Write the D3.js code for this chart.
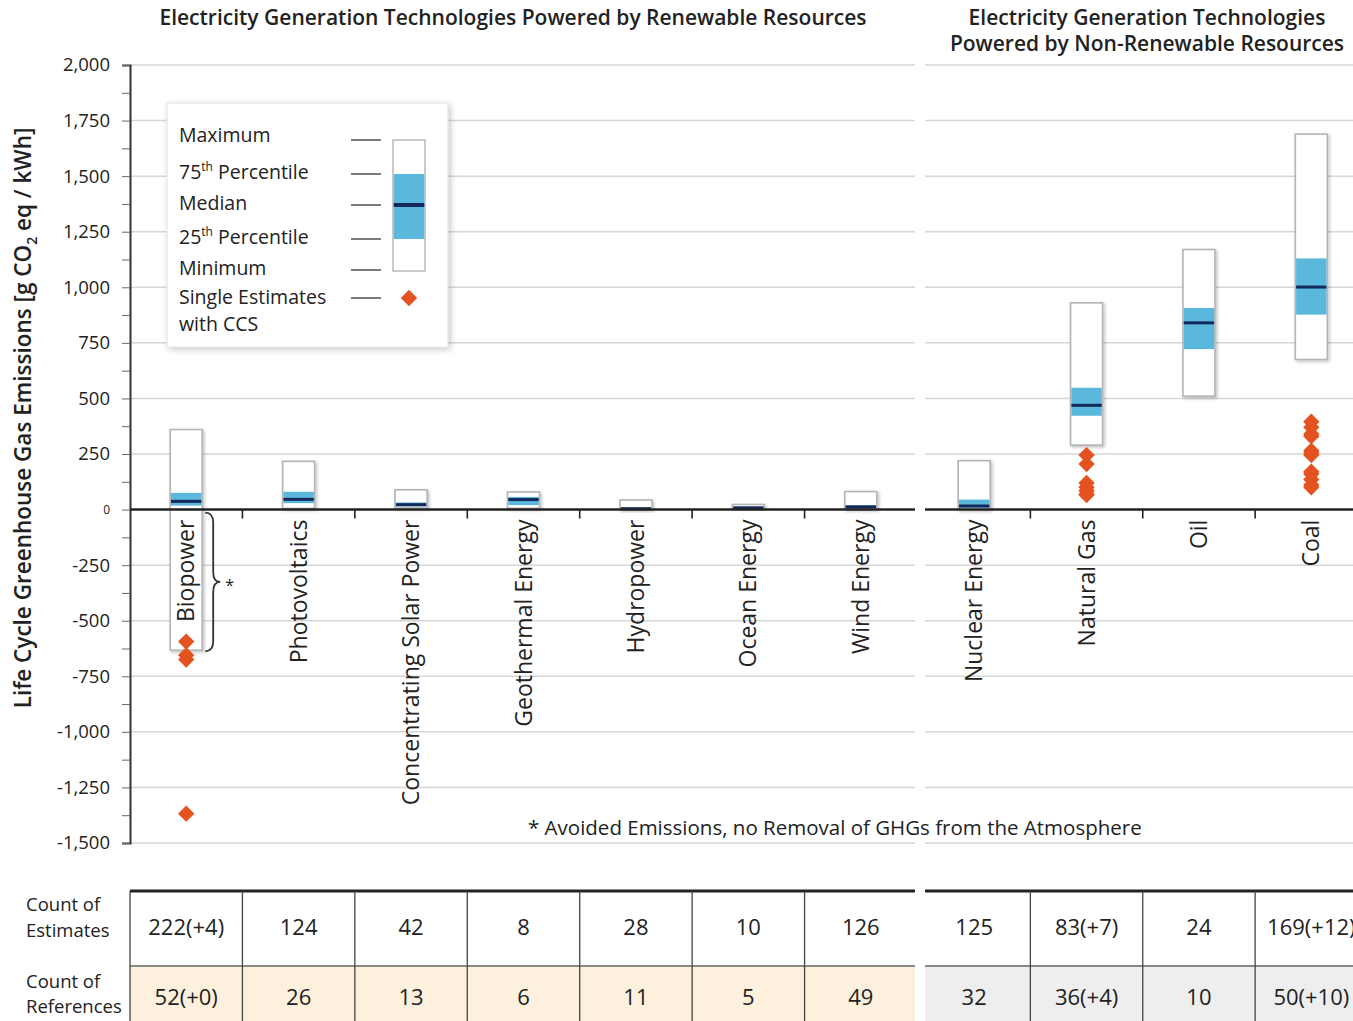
<!DOCTYPE html>
<html><head><meta charset="utf-8">
<script src="https://cdn.jsdelivr.net/npm/d3@7"></script>
<style>
body{margin:0;background:#fff;}
text{font-family:"Open Sans","Noto Sans",sans-serif;fill:#222;}
</style></head>
<body><svg id="c" width="1353" height="1021"></svg>
<script>
// ---------- data ----------
const categories = ["Biopower","Photovoltaics","Concentrating Solar Power","Geothermal Energy","Hydropower","Ocean Energy","Wind Energy","Nuclear Energy","Natural Gas","Oil","Coal"];
const renewable = ["Biopower","Photovoltaics","Concentrating Solar Power","Geothermal Energy","Hydropower","Ocean Energy","Wind Energy"];
const nonRenewable = ["Nuclear Energy","Natural Gas","Oil","Coal"];
const minVals = [-633, 5, 7, 6, 0, 2, 2, 1, 290, 510, 675];
const q1Vals  = [18, 29, 14, 20, 3, 6, 8, 8, 422, 722, 877];
const medVals = [37, 46, 22, 45, 4, 8, 12, 16, 469, 840, 1001];
const q3Vals  = [75, 80, 32, 57, 7, 9, 20, 45, 548, 907, 1130];
const maxVals = [360, 217, 89, 79, 43, 23, 81, 220, 930, 1170, 1689];
const ccsBiopower = [-594, -655, -675, -1368];
const ccsNaturalGas = [245, 205, 120, 100, 85, 70, 65];
const ccsCoal = [395, 370, 340, 330, 265, 255, 245, 170, 160, 135, 110, 100];
const ccsByCategory = {"Biopower": ccsBiopower, "Natural Gas": ccsNaturalGas, "Coal": ccsCoal};
const countEstimates = ["222(+4)","124","42","8","28","10","126","125","83(+7)","24","169(+12)"];
const countReferences = ["52(+0)","26","13","6","11","5","49","32","36(+4)","10","50(+10)"];
const yTickValues = [-1500,-1250,-1000,-750,-500,-250,0,250,500,750,1000,1250,1500,1750,2000];
const yMinorTicks = [-1500,-1375,-1250,-1125,-1000,-875,-750,-625,-500,-375,-250,-125,0,125,250,375,500,625,750,875,1000,1125,1250,1375,1500,1625,1750,1875,2000];
const panelTitles = [["Electricity Generation Technologies Powered by Renewable Resources"],["Electricity Generation Technologies","Powered by Non-Renewable Resources"]];

// ---------- layout ----------
const svg = d3.select("#c");
const defs = svg.append("defs");
const f = defs.append("filter").attr("id","sh").attr("x","-20%").attr("y","-20%").attr("width","150%").attr("height","150%");
f.append("feDropShadow").attr("dx",1.5).attr("dy",1.5).attr("stdDeviation",1.5).attr("flood-color","#000").attr("flood-opacity",0.25);
const f2 = defs.append("filter").attr("id","sh2").attr("x","-10%").attr("y","-10%").attr("width","130%").attr("height","130%");
f2.append("feDropShadow").attr("dx",2).attr("dy",2).attr("stdDeviation",3).attr("flood-color","#000").attr("flood-opacity",0.22);

const y = d3.scaleLinear().domain([-1500, 2000]).range([843, 65]);
const xL = d3.scaleBand().domain(renewable).range([130, 917]);
const xR = d3.scaleBand().domain(nonRenewable).range([918, 1367.5]);
const xC = c => renewable.includes(c) ? xL(c) + xL.bandwidth()/2 : xR(c) + xR.bandwidth()/2;
const bw = 32;
const segs = [[130, 915], [925, 1353]];
const blue = "#5ab8dc", navy = "#14295a", orange = "#e4521f";
const fmt = d3.formatLocale({decimal:".", thousands:",", grouping:[3], currency:["",""], minus:"-"}).format(",");

// titles
svg.append("text").attr("x", 513).attr("y", 25).attr("text-anchor","middle")
  .attr("font-size", 21).attr("font-weight", 600).text(panelTitles[0][0]);
panelTitles[1].forEach((t,i)=>svg.append("text").attr("x",1147).attr("y",25+26*i).attr("text-anchor","middle")
  .attr("font-size",21).attr("font-weight",600).text(t));

// gridlines
const gridVals = yTickValues.filter(v => v !== 0);
segs.forEach(s => {
  svg.append("g").selectAll("line").data(gridVals).join("line")
    .attr("x1", s[0]).attr("x2", s[1]).attr("y1", d => y(d)).attr("y2", d => y(d))
    .attr("stroke", "#d6d6d6").attr("stroke-width", 1.5);
});

// y axis
const ax = svg.append("g").attr("transform","translate(130,0)")
  .call(d3.axisLeft(y).tickValues(yMinorTicks).tickSize(8).tickPadding(12)
    .tickFormat(d => (d % 250 === 0) ? fmt(d) : ""));
ax.select(".domain").attr("stroke","#333").attr("stroke-width",2);
ax.selectAll(".tick line").attr("stroke","#666").attr("stroke-width",1);
ax.selectAll(".tick text").attr("font-size", d => d === 0 ? 12 : 18.5).attr("fill","#222")
  .attr("font-family","'Open Sans',sans-serif");

// y label
const yl = svg.append("text").attr("transform","translate(31,418) rotate(-90)").attr("text-anchor","middle")
  .attr("font-size", 22.5).attr("font-weight", 600);
yl.append("tspan").text("Life Cycle Greenhouse Gas Emissions [g CO");
yl.append("tspan").attr("font-size", 14).attr("dy", 6).text("2");
yl.append("tspan").attr("dy", -6).text(" eq / kWh]");

// boxes
const boxes = svg.append("g");
categories.forEach((c, i) => {
  const cx = xC(c);
  boxes.append("rect").attr("x", cx - bw/2).attr("y", y(maxVals[i]))
    .attr("width", bw).attr("height", y(minVals[i]) - y(maxVals[i]))
    .attr("fill","#fff").attr("stroke","#b4b4b4").attr("stroke-width",1.6).attr("filter","url(#sh)");
  boxes.append("rect").attr("x", cx - bw/2 + 0.8).attr("y", y(q3Vals[i]))
    .attr("width", bw - 1.6).attr("height", Math.max(1, y(q1Vals[i]) - y(q3Vals[i]))).attr("fill", blue);
  boxes.append("line").attr("x1", cx - bw/2 + 0.8).attr("x2", cx + bw/2 - 0.8)
    .attr("y1", y(medVals[i])).attr("y2", y(medVals[i])).attr("stroke", navy).attr("stroke-width", 3);
});

// zero line & column ticks
segs.forEach(s => svg.append("line").attr("x1", s[0]).attr("x2", s[1]).attr("y1", y(0)).attr("y2", y(0))
  .attr("stroke","#222").attr("stroke-width",2.6));
const bounds = renewable.slice(1).map(c => xL(c)).concat(nonRenewable.slice(1).map(c => xR(c)));
svg.append("g").selectAll("line").data(bounds).join("line")
  .attr("x1", d => d).attr("x2", d => d).attr("y1", y(0)).attr("y2", y(0) + 9)
  .attr("stroke","#222").attr("stroke-width",1.6);

// category labels
svg.append("g").selectAll("text").data(categories).join("text")
  .attr("transform", c => `translate(${xC(c) + 8},${y(0) + 10}) rotate(-90)`)
  .attr("text-anchor","end").attr("font-size", 23).text(c => c);

// CCS diamonds
const dia = d3.symbol().type(d3.symbolDiamond2).size(170);
categories.forEach(c => {
  const vals = ccsByCategory[c] || [];
  svg.append("g").selectAll("path").data(vals).join("path")
    .attr("d", dia).attr("transform", v => `translate(${xC(c)},${y(v)})`)
    .attr("fill", orange);
});

// brace & asterisk for biopower
const bx = xC("Biopower") + 19, bt = y(0) + 3, bb = y(minVals[0]) + 1, bm = (bt + bb) / 2;
svg.append("path").attr("d",
  `M${bx},${bt} Q${bx+8},${bt} ${bx+8},${bt+10} L${bx+8},${bm-10} Q${bx+8},${bm} ${bx+15},${bm} Q${bx+8},${bm} ${bx+8},${bm+10} L${bx+8},${bb-10} Q${bx+8},${bb} ${bx},${bb}`)
  .attr("fill","none").attr("stroke","#333").attr("stroke-width",1.8);
svg.append("text").attr("x", bx + 20).attr("y", bm + 9).attr("font-size", 16).text("*");

// footnote
svg.append("text").attr("x", 528).attr("y", 835).attr("font-size", 20.5)
  .text("* Avoided Emissions, no Removal of GHGs from the Atmosphere");

// legend
const lg = svg.append("g").attr("transform","translate(167,103)");
lg.append("rect").attr("width", 281).attr("height", 244).attr("fill","#fff").attr("stroke","#e2e2e2").attr("filter","url(#sh2)");
const legRows = [["Maximum",null,32],["75","th Percentile",69],["Median",null,100],["25","th Percentile",134],["Minimum",null,165],["Single Estimates",null,194]];
const legLineY = [37, 71, 102, 136, 167, 195];
legRows.forEach((r, i) => {
  const t = lg.append("text").attr("x", 12).attr("y", r[2] + 7).attr("font-size", 19.5);
  if (r[1]) {
    t.append("tspan").text(r[0]);
    t.append("tspan").attr("font-size", 12).attr("dy", -8).text("th");
    t.append("tspan").attr("dy", 8).text(r[1].slice(2));
  } else t.text(r[0]);
  lg.append("line").attr("x1", 184).attr("x2", 214).attr("y1", legLineY[i]).attr("y2", legLineY[i])
    .attr("stroke","#333").attr("stroke-width",1.3);
});
lg.append("text").attr("x", 12).attr("y", 228).attr("font-size", 19.5).text("with CCS");
lg.append("rect").attr("x", 226).attr("y", 37).attr("width", 32).attr("height", 131).attr("fill","#fff").attr("stroke","#b4b4b4").attr("stroke-width",1.4);
lg.append("rect").attr("x", 226.7).attr("y", 71).attr("width", 30.6).attr("height", 65).attr("fill", blue);
lg.append("line").attr("x1", 226.7).attr("x2", 257.3).attr("y1", 102).attr("y2", 102).attr("stroke", navy).attr("stroke-width", 4);
lg.append("path").attr("d", dia).attr("transform","translate(242,195)").attr("fill", orange);

// table
const tTop = 891, tMid = 966, tBot = 1030;
svg.append("rect").attr("x", 130).attr("y", tMid).attr("width", 785).attr("height", tBot - tMid).attr("fill", "#fdf1de");
svg.append("rect").attr("x", 925).attr("y", tMid).attr("width", 430).attr("height", tBot - tMid).attr("fill", "#eeeeee");
segs.forEach(s => {
  svg.append("line").attr("x1", s[0]).attr("x2", s[1]).attr("y1", tTop).attr("y2", tTop).attr("stroke","#222").attr("stroke-width",3);
  svg.append("line").attr("x1", s[0]).attr("x2", s[1]).attr("y1", tMid).attr("y2", tMid).attr("stroke","#888").attr("stroke-width",2);
});
svg.append("g").selectAll("line").data([130].concat(bounds)).join("line")
  .attr("x1", d => d).attr("x2", d => d).attr("y1", tTop).attr("y2", tBot)
  .attr("stroke","#444").attr("stroke-width",1.3);
svg.append("g").selectAll("text").data(categories).join("text")
  .attr("x", c => xC(c)).attr("y", 935).attr("text-anchor","middle").attr("font-size", 22)
  .text((c, i) => countEstimates[i]);
svg.append("g").selectAll("text").data(categories).join("text")
  .attr("x", c => xC(c)).attr("y", 1005).attr("text-anchor","middle").attr("font-size", 22)
  .text((c, i) => countReferences[i]);
[["Count of",911],["Estimates",937],["Count of",988],["References",1013]].forEach(r =>
  svg.append("text").attr("x", 26).attr("y", r[1]).attr("font-size", 18.5).text(r[0]));
</script></body></html>
